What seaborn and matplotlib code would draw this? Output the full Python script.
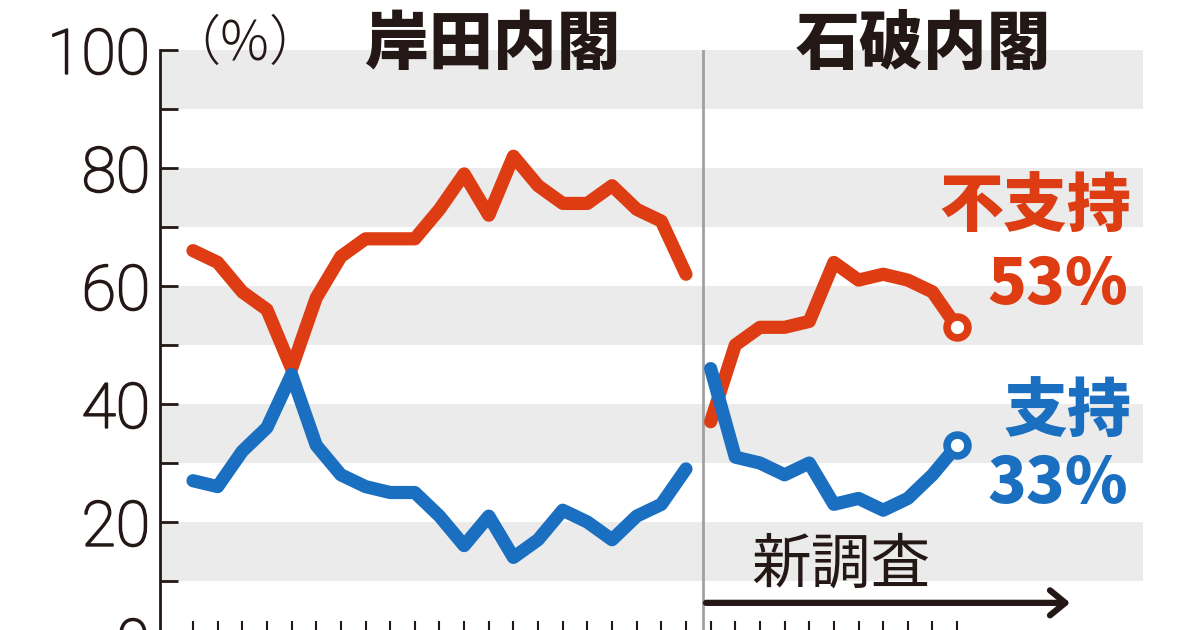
import numpy as np
import pandas as pd
import matplotlib
matplotlib.use("Agg")
import matplotlib.pyplot as plt
import matplotlib.patheffects as pe
import seaborn as sns

# survey values (%)
kishida_fushiji = [66, 64, 59, 56, 46, 58, 65, 68, 68, 68, 73, 79, 72, 82, 77, 74, 74, 77, 73, 71, 62]
kishida_shiji = [27, 26, 32, 36, 45, 33, 28, 26, 25, 25, 21, 16, 21, 14, 17, 22, 20, 17, 21, 23, 29]
ishiba_fushiji = [37, 50, 53, 53, 54, 64, 61, 62, 61, 59, 53]
ishiba_shiji = [46, 31, 30, 28, 30, 23, 24, 22, 24, 28, 33]

cabinets = ["岸田内閣", "石破内閣"]
series_labels = ["不支持", "支持"]
y_ticks = [0, 20, 40, 60, 80, 100]

RED = "#de3c12"
BLUE = "#1a6fc0"
BAND = "#ebebeb"
INK = "#231815"

n_k = len(kishida_shiji)
n_i = len(ishiba_shiji)
df = pd.DataFrame({
    "x": list(range(n_k)) * 2 + list(range(n_k, n_k + n_i)) * 2,
    "value": kishida_fushiji + kishida_shiji + ishiba_fushiji + ishiba_shiji,
    "series": ["不支持"] * n_k + ["支持"] * n_k + ["不支持"] * n_i + ["支持"] * n_i,
    "cabinet": ["岸田"] * (2 * n_k) + ["石破"] * (2 * n_i),
})

sns.set_style("white")
plt.rcParams["font.family"] = ["Noto Sans CJK JP", "DejaVu Sans"]

fig = plt.figure(figsize=(12, 6.3), dpi=100)
ax = fig.add_axes([0.1333, -0.0159, 0.8192, 0.9365])

# gray bands
for lo in range(10, 100, 20):
    ax.axhspan(lo, lo + 10, color=BAND, lw=0, zorder=0)

colors = {"不支持": RED, "支持": BLUE}
for (cab, ser), sub in df.groupby(["cabinet", "series"]):
    sns.lineplot(data=sub, x="x", y="value", ax=ax, color=colors[ser], lw=9.5,
                 legend=False, zorder=3, solid_joinstyle="round", solid_capstyle="round")

# open circles at latest point
last = df[df["x"] == df["x"].max()]
for _, r in last.iterrows():
    ax.plot(r["x"], r["value"], "o", ms=15, mfc="white", mec=colors[r["series"]],
            mew=5.5, zorder=4)

split = n_k - 0.3
ax.axvline(split, color="#a0a0a0", lw=2, zorder=2)

ax.set_xlim(-1.34, 38.54)
ax.set_ylim(0, 100)
ax.set_xlabel("")
ax.set_ylabel("")
ax.set_xticks(range(n_k + n_i))
ax.set_xticklabels([])
ax.set_yticks(y_ticks)
ax.set_yticks(range(10, 100, 20), minor=True)
thicken = [pe.withStroke(linewidth=1.3, foreground=INK)]
labels = ax.set_yticklabels([str(v) for v in y_ticks], family=["Roboto", "DejaVu Sans"],
                            fontweight="light", fontsize=45, color=INK)
for t in labels:
    t.set_path_effects(thicken)
ax.tick_params(axis="y", which="both", left=True, direction="in", length=13, width=2,
               color=INK, pad=7)
ax.tick_params(axis="x", bottom=True, direction="in", length=14, width=1.5, color=INK)
for s in ["top", "right", "bottom"]:
    ax.spines[s].set_visible(False)
ax.spines["left"].set_color(INK)
ax.spines["left"].set_linewidth(2)

# headings
fig.text(166 / 1200, 1 - 44 / 630, "（%）", fontsize=39, color=INK,
         va="center", ha="left", fontweight="light")
fig.text(493 / 1200, 1 - 45 / 630, cabinets[0], fontsize=46, fontweight="heavy",
         ha="center", va="center", color=INK)
fig.text(923 / 1200, 1 - 45 / 630, cabinets[1], fontsize=46, fontweight="heavy",
         ha="center", va="center", color=INK)

# end labels
fig.text(1131 / 1200, 1 - 208 / 630, series_labels[0], fontsize=46, fontweight="heavy",
         ha="right", va="center", color=RED)
fig.text(1128 / 1200, 1 - 285 / 630, f"{ishiba_fushiji[-1]}%", fontsize=46, fontweight="heavy",
         ha="right", va="center", color=RED)
fig.text(1131 / 1200, 1 - 413 / 630, series_labels[1], fontsize=46, fontweight="heavy",
         ha="right", va="center", color=BLUE)
fig.text(1128 / 1200, 1 - 484 / 630, f"{ishiba_shiji[-1]}%", fontsize=46, fontweight="heavy",
         ha="right", va="center", color=BLUE)

# new survey arrow
ax.annotate("", xy=(35.7, 6.3), xytext=(split, 6.3),
            arrowprops=dict(arrowstyle="->,head_length=1.1,head_width=0.9", lw=4.5, color=INK),
            zorder=5)
ax.text(26.3, 12.6, "新調査", fontsize=43, ha="center", va="center", color=INK)

fig.savefig("out.png", dpi=100)
